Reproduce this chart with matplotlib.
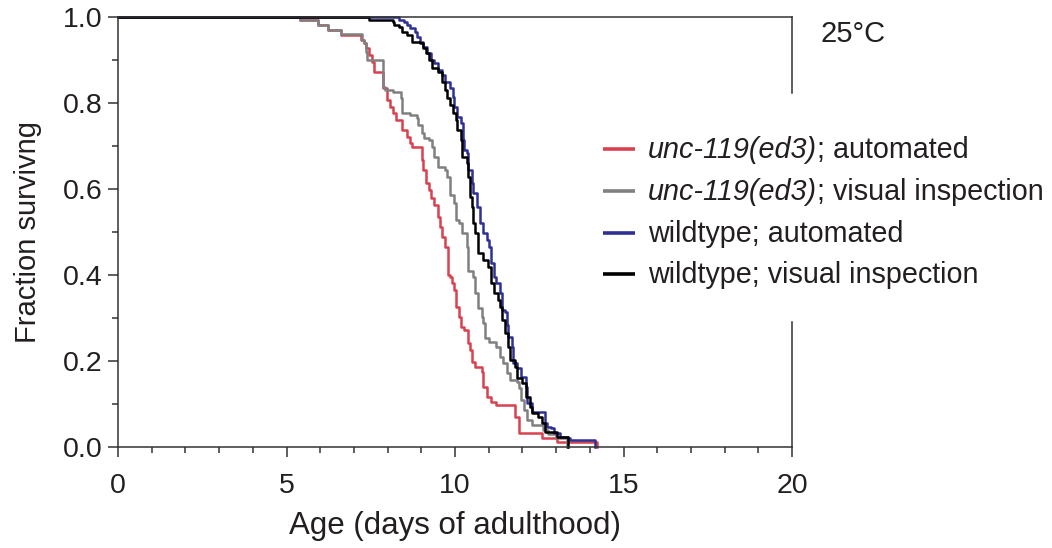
import matplotlib
matplotlib.use("Agg")
import matplotlib.pyplot as plt
from matplotlib.lines import Line2D
from matplotlib.ticker import MultipleLocator, FormatStrFormatter

plt.rcParams['font.family'] = ['Liberation Sans', 'DejaVu Sans']

# survival curves: time of each drop (days) and fraction surviving after it
unc_auto_t = [5.39, 5.92, 6.22, 6.63, 7.20, 7.31, 7.37, 7.46, 7.55, 7.61, 7.85, 7.97,
              8.06, 8.15, 8.26, 8.44, 8.56, 8.65, 8.71, 9.01, 9.04, 9.15, 9.24, 9.30,
              9.39, 9.48, 9.54, 9.60, 9.69, 9.78, 9.84, 9.90, 9.98, 10.04, 10.13, 10.19,
              10.28, 10.37, 10.43, 10.49, 10.58, 10.79, 10.82, 10.94, 11.08, 11.23, 11.77,
              11.91, 12.57, 13.04, 14.20]
unc_auto_s = [0.993, 0.981, 0.970, 0.958, 0.947, 0.940, 0.928, 0.912, 0.895, 0.872, 0.835, 0.807,
              0.791, 0.777, 0.760, 0.737, 0.721, 0.707, 0.698, 0.667, 0.644, 0.614, 0.598, 0.579,
              0.563, 0.535, 0.512, 0.488, 0.465, 0.400, 0.395, 0.381, 0.365, 0.326, 0.302, 0.279,
              0.272, 0.242, 0.226, 0.198, 0.186, 0.174, 0.140, 0.116, 0.105, 0.098, 0.070,
              0.033, 0.021, 0.012, 0.0]

unc_vis_t = [5.39, 5.92, 6.22, 6.63, 7.23, 7.31, 7.37, 7.40, 7.85, 7.91, 8.15, 8.41, 8.44,
             8.65, 8.86, 8.89, 9.01, 9.09, 9.24, 9.33, 9.39, 9.48, 9.69, 9.75, 9.84, 9.98,
             10.04, 10.13, 10.22, 10.34, 10.37, 10.52, 10.58, 10.67, 10.79, 10.82, 10.88,
             11.02, 11.23, 11.32, 11.41, 11.53, 11.62, 11.83, 11.91, 11.97, 12.06, 12.15,
             12.27, 12.60, 12.75, 13.01, 13.31]
unc_vis_s = [0.993, 0.981, 0.970, 0.960, 0.947, 0.940, 0.919, 0.900, 0.837, 0.830, 0.826, 0.812, 0.777,
             0.772, 0.765, 0.749, 0.730, 0.719, 0.714, 0.698, 0.674, 0.651, 0.645, 0.628, 0.586, 0.567,
             0.528, 0.521, 0.498, 0.465, 0.410, 0.395, 0.358, 0.323, 0.302, 0.288, 0.253,
             0.245, 0.233, 0.209, 0.195, 0.172, 0.156, 0.151, 0.137, 0.109, 0.086, 0.063,
             0.051, 0.040, 0.030, 0.020, 0.0]

wt_auto_t = [8.35, 8.50, 8.56, 8.65, 8.80, 8.86, 8.95, 9.04, 9.18, 9.30, 9.39, 9.48, 9.60,
             9.69, 9.84, 9.93, 9.98, 10.07, 10.19, 10.25, 10.28, 10.34, 10.37, 10.49, 10.52,
             10.64, 10.73, 10.82, 10.94, 11.02, 11.08, 11.17, 11.23, 11.32, 11.38, 11.47,
             11.53, 11.56, 11.68, 11.71, 11.85, 11.97, 12.12, 12.15, 12.27, 12.66, 12.72,
             12.86, 12.95, 13.10, 13.34, 13.40, 14.14]
wt_auto_s = [0.993, 0.988, 0.981, 0.974, 0.965, 0.953, 0.942, 0.930, 0.916, 0.900, 0.893, 0.877, 0.865,
             0.849, 0.835, 0.814, 0.791, 0.767, 0.753, 0.714, 0.691, 0.684, 0.644, 0.614, 0.591,
             0.558, 0.521, 0.498, 0.481, 0.465, 0.428, 0.395, 0.381, 0.358, 0.319, 0.314,
             0.284, 0.256, 0.233, 0.195, 0.184, 0.163, 0.140, 0.102, 0.081, 0.056, 0.047,
             0.044, 0.033, 0.023, 0.021, 0.016, 0.0]

wt_vis_t = [7.46, 8.15, 8.20, 8.35, 8.44, 8.56, 8.71, 8.95, 9.04, 9.15, 9.24, 9.33, 9.48,
            9.60, 9.69, 9.75, 9.84, 9.93, 10.04, 10.07, 10.19, 10.22, 10.34, 10.37, 10.43,
            10.49, 10.52, 10.58, 10.67, 10.82, 10.97, 11.08, 11.17, 11.26, 11.32, 11.38,
            11.47, 11.56, 11.62, 11.77, 11.83, 12.00, 12.12, 12.21, 12.27, 12.45, 12.57,
            12.66, 13.04, 13.34]
wt_vis_s = [0.993, 0.988, 0.981, 0.977, 0.965, 0.958, 0.942, 0.940, 0.928, 0.916, 0.900, 0.881, 0.872,
            0.849, 0.830, 0.812, 0.795, 0.777, 0.760, 0.737, 0.714, 0.674, 0.660, 0.628, 0.581,
            0.558, 0.521, 0.498, 0.451, 0.435, 0.419, 0.381, 0.358, 0.342, 0.326, 0.295,
            0.265, 0.233, 0.202, 0.186, 0.160, 0.149, 0.116, 0.093, 0.079, 0.070, 0.056,
            0.035, 0.023, 0.0]

legend_italic = ['unc-119(ed3)', 'unc-119(ed3)', '', '']
legend_rest = ['; automated', '; visual inspection', 'wildtype; automated', 'wildtype; visual inspection']
colors = ['#d8414f', '#808080', '#2e3192', '#000000']

series = [(unc_auto_t, unc_auto_s), (unc_vis_t, unc_vis_s),
          (wt_auto_t, wt_auto_s), (wt_vis_t, wt_vis_s)]

txt = '#231f20'
axcol = '#333333'

fig = plt.figure(figsize=(10.52, 5.48), dpi=100)
ax = fig.add_axes([0.1122, 0.1843, 0.6407, 0.7847])

for (t, s), c in zip(series, colors):
    ax.step([0] + t, [1.0] + s, where='post', color=c, lw=1.8, clip_on=False)

ax.set_xlim(0, 20)
ax.set_ylim(0, 1.0)
ax.xaxis.set_major_locator(MultipleLocator(5))
ax.xaxis.set_minor_locator(MultipleLocator(1))
ax.yaxis.set_major_locator(MultipleLocator(0.2))
ax.yaxis.set_minor_locator(MultipleLocator(0.1))
ax.yaxis.set_major_formatter(FormatStrFormatter('%.1f'))
ax.tick_params(which='both', direction='out', width=1.1, color=axcol,
               labelsize=20.5, labelcolor=txt)
ax.tick_params(which='major', length=7.5)
ax.tick_params(which='minor', length=4.5)
ax.tick_params(axis='x', which='major', pad=11)

for side in ['left', 'bottom', 'top']:
    ax.spines[side].set_color(axcol)
    ax.spines[side].set_linewidth(1.1)
ax.spines['right'].set_visible(False)
# right frame is interrupted by the legend
for y0, y1 in [(1.0, 0.823), (0.29, 0.0)]:
    ax.plot([1, 1], [y0, y1], transform=ax.transAxes, color=axcol, lw=1.1, clip_on=False)

ax.set_xlabel('Age (days of adulthood)', fontsize=22.5, color=txt, labelpad=9)
ax.set_ylabel('Fraction survivng', fontsize=21, color=txt, labelpad=15)

# legend with italic genotype
W, H = 1052, 548
row_y = [149, 191, 233, 274]
for i in range(4):
    yf = 1 - row_y[i] / H
    fig.add_artist(Line2D([603 / W, 635 / W], [yf, yf], transform=fig.transFigure,
                          color=colors[i], lw=2.6, solid_capstyle='butt'))
    yb = 1 - (row_y[i] + 9) / H
    if legend_italic[i]:
        t1 = fig.text(648 / W, yb, legend_italic[i], style='italic', fontsize=20.7,
                      color=txt, va='baseline')
        ax.annotate(legend_rest[i], xy=(1, 0), xycoords=t1, va='bottom', ha='left',
                    fontsize=20.7, color=txt, annotation_clip=False)
    else:
        fig.text(648 / W, yb, legend_rest[i], fontsize=20.7, color=txt, va='baseline')

fig.text(820 / W, 1 - 42 / H, '25°C', fontsize=21, color=txt, va='baseline')

fig.savefig('out.png', dpi=100)
